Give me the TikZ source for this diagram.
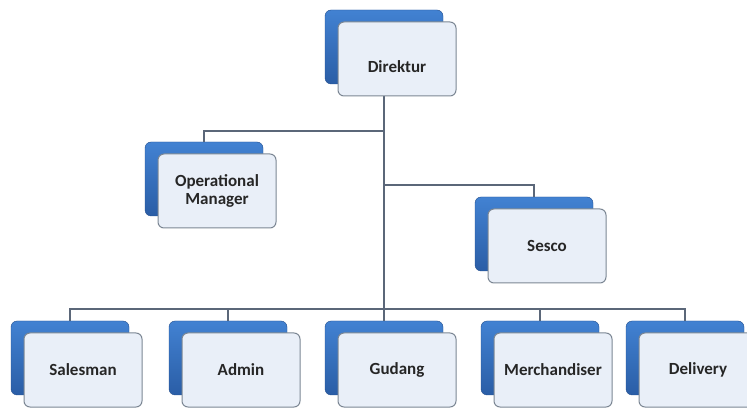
\documentclass[tikz,border=0pt]{standalone}
\usepackage{fontspec}
\setmainfont{Carlito}
\usetikzlibrary{positioning}
\definecolor{boxblue}{HTML}{4282D2}
\definecolor{boxbluedark}{HTML}{2A5DA6}
\definecolor{boxfront}{HTML}{E9EFF8}
\definecolor{boxedge}{HTML}{7C8794}
\definecolor{linegray}{HTML}{5B6779}
\definecolor{textgray}{HTML}{262626}

\begin{document}
\begin{tikzpicture}[x=1pt,y=1pt,
    back/.style={rounded corners=6pt, minimum width=118pt, minimum height=74pt, inner sep=0pt,
        top color=boxblue, bottom color=boxbluedark, draw=boxbluedark!85!black},
    front/.style={rounded corners=6pt, minimum width=118pt, minimum height=74pt, inner sep=2pt,
        fill=boxfront, draw=boxedge, line width=1pt, text=textgray, align=center,
        font=\fontsize{17}{18}\selectfont\bfseries},
    conn/.style={draw=linegray, line width=1.4pt}]
    \useasboundingbox (0,0) rectangle (747,407);

    % blue boxes behind
    \node[back] (dir) at (384,360) {};
    \node[back] (opm) at (204,228) {};
    \node[back] (ses) at (534,173) {};
    \foreach \n/\x in {sal/70,adm/228,gud/384,mer/540,del/685}
        \node[back] (\n) at (\x,49) {};

    % lines
    \coordinate (jopm) at (384,276);
    \coordinate (jses) at (384,222);
    \coordinate (jbus) at (384,98);
    \draw[conn] (dir.south) -- (jbus) -- (gud.north);
    \draw[conn] (jopm) -| (opm.north);
    \draw[conn] (jses) -| (ses.north);
    \foreach \n in {sal,adm,mer,del}
        \draw[conn] (jbus) -| (\n.north);

    % white boxes in front
    \node[front] (dirf) at ([shift={(13,-12)}]dir.center) {\raisebox{-14pt}[0pt][0pt]{Direktur}};
    \node[front] (opmf) at ([shift={(13,-12)}]opm.center) {Operational\\Manager};
    \node[front] (sesf) at ([shift={(13,-12)}]ses.center) {Sesco};
    \foreach \n/\t in {sal/Salesman,adm/Admin,gud/Gudang,mer/Merchandiser,del/Delivery}
        \node[front] (\n f) at ([shift={(13,-12)}]\n.center) {\t};
\end{tikzpicture}
\end{document}
